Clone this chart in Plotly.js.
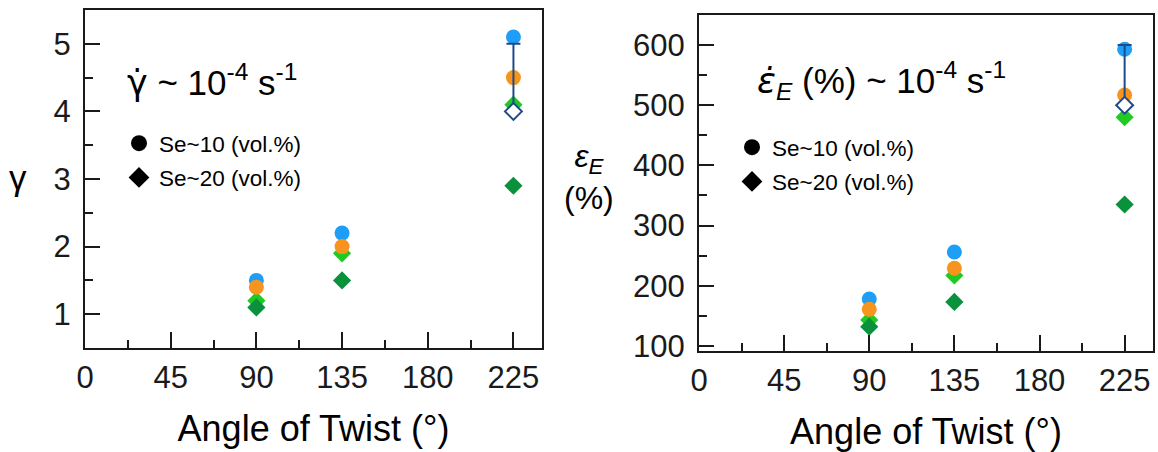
<!DOCTYPE html>
<html><head><meta charset="utf-8">
<script src="https://cdn.plot.ly/plotly-3.0.1.min.js"></script>
<style>html,body{margin:0;padding:0;background:#fff}#chart{width:1158px;height:452px}</style>
</head><body><div id="chart"></div>
<script>
// ---- data ----
const angles = [90, 135, 225];
const meanAngle = [225];

// left panel: shear strain gamma
const gammaSe10Blue = [1.5, 2.2, 5.1];
const gammaSe10Orange = [1.4, 2.0, 4.5];
const gammaSe20Lime = [1.2, 1.9, 4.1];
const gammaSe20Green = [1.1, 1.5, 2.9];
const gammaMean = [4.0];
const gammaMeanErrUp = [1.0];

// right panel: elongation eps_E (%)
const strainSe10Blue = [178, 256, 593];
const strainSe10Orange = [161, 229, 517];
const strainSe20Lime = [143, 217, 480];
const strainSe20Green = [132, 173, 335];
const strainMean = [500];
const strainMeanErrUp = [100];

const xTickVals = [0, 45, 90, 135, 180, 225];
const legendNames = ['Se~10 (vol.%)', 'Se~20 (vol.%)'];

// ---- styling ----
const FONT = 'Arial, "Liberation Sans", sans-serif';
const cBlue = '#1E9EF7', cOrange = '#F7941D', cLime = '#1FCA22', cGreen = '#0A913C', cNavy = '#1F4A8A';
const INK = '#1a1a1a';

function pts(x, y, color, symbol, size, xa, ya) {
  return {type:'scatter', mode:'markers', x:x, y:y, xaxis:xa, yaxis:ya, showlegend:false,
    marker:{color:color, symbol:symbol, size:size, line:{width:0}}, hoverinfo:'skip'};
}
function meanTrace(y, up, xa, ya) {
  return {type:'scatter', mode:'markers', x:meanAngle, y:y, xaxis:xa, yaxis:ya, showlegend:false,
    marker:{color:'#ffffff', symbol:'diamond', size:13, line:{width:2, color:cNavy}},
    error_y:{type:'data', symmetric:false, array:up, arrayminus:[0], color:cNavy, thickness:2, width:7},
    hoverinfo:'skip'};
}
function legendTrace(name, symbol, xa, ya, leg, grp) {
  return {type:'scatter', mode:'markers', x:[null], y:[null], xaxis:xa, yaxis:ya, name:name,
    legend:leg, legendgroup:grp, showlegend:true, marker:{color:'#000', symbol:symbol, size:22}};
}

const traces = [
  pts(angles, gammaSe20Lime, cLime, 'diamond', 14, 'x', 'y'),
  pts(angles, gammaSe20Green, cGreen, 'diamond', 14, 'x', 'y'),
  pts(angles, gammaSe10Blue, cBlue, 'circle', 15, 'x', 'y'),
  pts(angles, gammaSe10Orange, cOrange, 'circle', 15, 'x', 'y'),
  meanTrace(gammaMean, gammaMeanErrUp, 'x', 'y'),
  pts(angles, strainSe20Lime, cLime, 'diamond', 14, 'x2', 'y2'),
  pts(angles, strainSe20Green, cGreen, 'diamond', 14, 'x2', 'y2'),
  pts(angles, strainSe10Blue, cBlue, 'circle', 15, 'x2', 'y2'),
  pts(angles, strainSe10Orange, cOrange, 'circle', 15, 'x2', 'y2'),
  meanTrace(strainMean, strainMeanErrUp, 'x2', 'y2'),
  legendTrace(legendNames[0], 'circle', 'x', 'y', 'legend', 'a'),
  legendTrace(legendNames[1], 'diamond', 'x', 'y', 'legend', 'b'),
  legendTrace(legendNames[0], 'circle', 'x2', 'y2', 'legend2', 'a'),
  legendTrace(legendNames[1], 'diamond', 'x2', 'y2', 'legend2', 'b')
];

const W = 1158, H = 452;
function px(x){return x/W;} function py(y){return 1-y/H;}

function xAxis(dom, anchor) {
  return {domain:dom, anchor:anchor, range:[0,240], tickvals:xTickVals, ticks:'inside', ticklen:16,
    tickwidth:2, tickcolor:INK, showline:true, mirror:true, linewidth:2, linecolor:INK,
    showgrid:false, zeroline:false, ticklabelstandoff:1,
    minor:{dtick:22.5, tick0:0, ticks:'inside', ticklen:8, tickwidth:2, tickcolor:INK, showgrid:false},
    tickfont:{family:FONT, size:31, color:INK},
    title:{text:'Angle of Twist (°)', font:{family:FONT, size:36, color:'#000'}, standoff:22}};
}
function yAxis(dom, anchor, range, dtick, minor) {
  return {domain:dom, anchor:anchor, range:range, dtick:dtick, tick0:0, ticks:'inside', ticklen:15,
    tickwidth:2, tickcolor:INK, showline:true, mirror:true, linewidth:2, linecolor:INK,
    showgrid:false, zeroline:false, ticklabelstandoff:6,
    minor:{dtick:minor, ticks:'inside', ticklen:8, tickwidth:2, tickcolor:INK, showgrid:false},
    tickfont:{family:FONT, size:31, color:INK}};
}

const DOT = '<span style="font-family:DejaVu Sans">';
const layout = {
  width:W, height:H, margin:{l:0, r:0, t:0, b:0},
  paper_bgcolor:'#fff', plot_bgcolor:'#fff', font:{family:FONT, color:'#000'},
  xaxis: xAxis([px(85), px(542)], 'y'),
  yaxis: yAxis([py(348), py(10)], 'x', [0.5, 5.5], 1, 0.5),
  xaxis2: xAxis([px(699), px(1153)], 'y2'),
  yaxis2: yAxis([py(351), py(15)], 'x2', [91.5, 650], 100, 50),
  legend:{x:px(119), y:py(122), xanchor:'left', yanchor:'top', bgcolor:'rgba(0,0,0,0)',
    font:{family:FONT, size:22.5, color:'#000'}, tracegroupgap:2, itemsizing:'trace'},
  legend2:{x:px(732), y:py(126), xanchor:'left', yanchor:'top', bgcolor:'rgba(0,0,0,0)',
    font:{family:FONT, size:22.5, color:'#000'}, tracegroupgap:2, itemsizing:'trace'},
  annotations:[
    {xref:'paper', yref:'paper', x:px(18), y:py(177), xanchor:'center', yanchor:'middle', showarrow:false,
     text:'γ', font:{family:FONT, size:35, color:'#000'}},
    {xref:'paper', yref:'paper', x:px(125), y:py(80), xanchor:'left', yanchor:'middle', showarrow:false,
     text:DOT + 'γ\u0307</span> ~ 10<sup>-4</sup> s<sup>-1</sup>', font:{family:FONT, size:35, color:'#000'}},
    {xref:'paper', yref:'paper', x:px(755), y:py(80), xanchor:'left', yanchor:'middle', showarrow:false,
     text:DOT + '<i>ε\u0307</i></span><sub><i>E</i></sub> (%) ~ 10<sup>-4</sup> s<sup>-1</sup>', font:{family:FONT, size:35, color:'#000'}},
    {xref:'paper', yref:'paper', x:px(589), y:py(177), xanchor:'center', yanchor:'middle', showarrow:false,
     align:'center', text:'<i>ε</i><sub><i>E</i></sub><br>(%)', font:{family:FONT, size:32, color:'#000'}}
  ]
};

Plotly.newPlot('chart', traces, layout, {staticPlot:true, displayModeBar:false});
</script></body></html>
